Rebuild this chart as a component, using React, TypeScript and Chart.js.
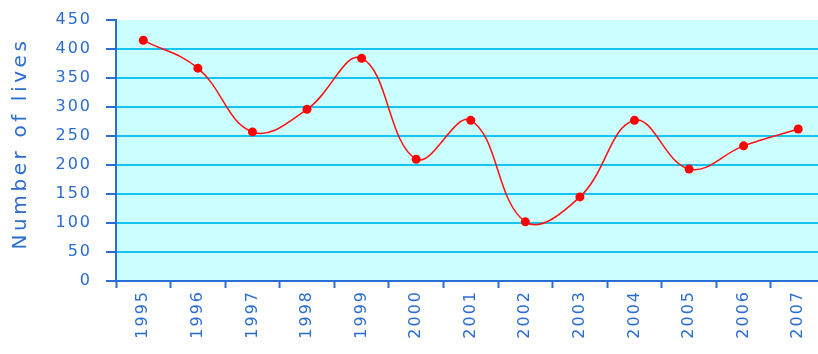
import React, { useEffect, useRef } from "react";
import { Chart, registerables } from "chart.js";

Chart.register(...registerables);

const years = ["1995", "1996", "1997", "1998", "1999", "2000", "2001", "2002", "2003", "2004", "2005", "2006", "2007"];
const lives = [415, 367, 257, 296, 384, 210, 277, 102, 145, 277, 193, 233, 262];
const yTitle = "Number of lives";

const BLUE = "#2A6CD2";
const FONT = "'DejaVu Sans', Verdana, sans-serif";

const bgPlugin = {
  id: "bgPlugin",
  beforeDraw(chart: any) {
    const { ctx, chartArea } = chart;
    ctx.letterSpacing = "2px";
    ctx.save();
    ctx.fillStyle = "#CCFFFF";
    ctx.fillRect(chartArea.left, chartArea.top, chartArea.right - chartArea.left, chartArea.bottom - chartArea.top);
    ctx.restore();
    const ys = chart.scales.y;
    if (ys && !ys._patchedTitle) {
      const orig = ys.drawTitle;
      ys.drawTitle = function () {
        const c = this.ctx;
        const prev = c.letterSpacing;
        c.save();
        c.translate(0, -7);
        c.letterSpacing = "3.6px";
        orig.call(this);
        c.restore();
        c.letterSpacing = prev;
      };
      ys._patchedTitle = true;
    }
  },
};

export default function App() {
  const ref = useRef<HTMLCanvasElement>(null);
  useEffect(() => {
    if (!ref.current) return;
    const chart = new Chart(ref.current, {
      type: "line",
      data: {
        labels: years,
        datasets: [
          {
            data: lives,
            borderColor: "#FF1010",
            borderWidth: 1.5,
            tension: 0.4,
            pointRadius: 4.5,
            pointBackgroundColor: "#FF0000",
            pointBorderWidth: 0,
            fill: false,
          },
        ],
      },
      options: {
        animation: false,
        responsive: false,
        layout: { padding: { top: 20, right: 3, left: 0, bottom: 0 } },
        plugins: { legend: { display: false }, tooltip: { enabled: false } },
        scales: {
          x: {
            type: "category",
            offset: true,
            afterFit(scale: any) {
              scale.height = 73;
              scale.paddingRight = 0;
              scale.paddingLeft = 0;
            },
            grid: {
              display: true,
              drawOnChartArea: false,
              drawTicks: true,
              tickLength: 7,
              tickColor: BLUE,
              tickWidth: 2,
              offset: true,
            },
            border: { display: true, color: BLUE, width: 2 },
            ticks: {
              color: BLUE,
              font: { family: FONT, size: 16 },
              minRotation: 90,
              maxRotation: 90,
              padding: 2,
              autoSkip: false,
            },
          },
          y: {
            min: 0,
            max: 450,
            afterFit(scale: any) {
              scale.width = 116;
              scale.paddingTop = 0;
              scale.paddingBottom = 0;
            },
            grid: {
              color: (c: any) => (c.tick && c.tick.value === 450 ? "rgba(0,0,0,0)" : "#16C4F2"),
              lineWidth: 2,
              tickLength: 10,
              tickColor: BLUE,
              tickWidth: 2,
            },
            border: { display: true, color: BLUE, width: 2 },
            ticks: {
              stepSize: 50,
              color: BLUE,
              font: { family: FONT, size: 16 },
              padding: 14,
            },
            title: {
              display: true,
              text: yTitle,
              color: BLUE,
              font: { family: FONT, size: 20 },
              padding: { top: 9, bottom: 0 },
            },
          },
        },
      },
      plugins: [bgPlugin],
    });
    return () => chart.destroy();
  }, []);
  return (
    <div style={{ position: "fixed", left: 0, top: 0, width: 818, height: 354, overflow: "hidden", background: "#fff" }}>
      <canvas ref={ref} width={830} height={354} style={{ display: "block" }} />
    </div>
  );
}
